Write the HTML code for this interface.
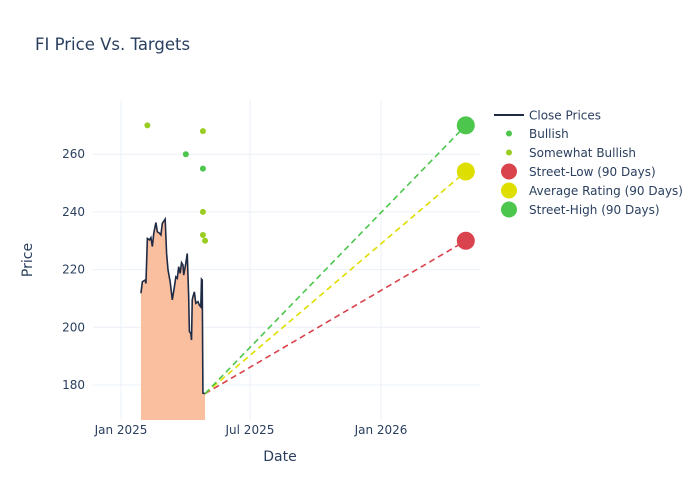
<!DOCTYPE html>
<html><head><meta charset="utf-8"><style>
body{margin:0;background:#fff;font-family:"DejaVu Sans",sans-serif}
svg text{font-family:"DejaVu Sans",sans-serif;fill:#2a3f5f}
</style></head><body>
<svg id="c" width="700" height="500" xmlns="http://www.w3.org/2000/svg">
<text x="35" y="50" font-size="16.5">FI Price Vs. Targets</text>
</svg>
<script>
// Day offsets from 2025-01-01
const priceDays=[28,30,34,35,37,40,42,44,46,49,51,54,56,58,62,64,66,69,72,75,77,79,81,83,85,87,88,91,93,95,96,98,99,100,101,103,105,108,110,112,113,114,115,118];
const priceVals=[211.8,215.8,216.4,215.2,230.8,230.3,231.1,228,232.6,236.3,233.1,232.6,232,236,237.5,225.6,219.9,215.8,209.5,214.1,217.5,217,221,218.7,222.4,221.6,218.1,222.2,225.6,210.6,198.5,197.9,195.6,209.5,210.6,212.3,208.3,208.9,207.7,207.1,216.7,216.4,177.2,177];
const bullDays=[91,115];
const bullVals=[260,255];
const sbDays=[37,115,115,115,118];
const sbVals=[270,268,240,232,230];
const targetDay=484;
const targetNames=["Street-Low (90 Days)","Average Rating (90 Days)","Street-High (90 Days)"];
const targetVals=[230,254,270];
const targetColors=["#d9434d","#dede00","#4cc64c"];
const yTicks=[180,200,220,240,260];
const xTickDays=[0,181,365];
const xTickLabels=["Jan 2025","Jul 2025","Jan 2026"];

const NS="http://www.w3.org/2000/svg";
const svg=document.getElementById('c');
const X0=93,X1=480,Y0=100,Y1=420;
const xs=d=>121+d*0.7124;
const ys=v=>385-(v-180)*2.885;
function mk(t,a,p){const e=document.createElementNS(NS,t);for(const k in a)e.setAttribute(k,a[k]);(p||svg).appendChild(e);return e;}

for(let i=0;i<yTicks.length;i++){
  const g=mk('line',{x1:X0,x2:X1,y1:ys(yTicks[i]),y2:ys(yTicks[i]),stroke:'#ebf0f8','stroke-width':1});
  
  
  const t=mk('text',{x:X0-8,y:ys(yTicks[i])+4,'font-size':12,'text-anchor':'end'});
  t.textContent=yTicks[i];
  
  
}
for(let i=0;i<xTickDays.length;i++){
  const x=xs(xTickDays[i]);
  const g=mk('line',{x1:x,x2:x,y1:Y0,y2:Y1,stroke:'#ebf0f8','stroke-width':1});
  
  
  const t=mk('text',{x:x,y:Y1+14,'font-size':12,'text-anchor':'middle'});
  t.textContent=xTickLabels[i];
  
  
}
let d='M'+xs(priceDays[0])+','+Y1;
for(let i=0;i<priceDays.length;i++)d+=' L'+xs(priceDays[i])+','+ys(priceVals[i]);
d+=' L'+xs(priceDays[priceDays.length-1])+','+Y1+' Z';
const f=mk('path',{d:d,fill:'#f9b48e','fill-opacity':0.85});


let ld='';
for(let i=0;i<priceDays.length;i++)ld+=(i?' L':'M')+xs(priceDays[i])+','+ys(priceVals[i]);
const pl=mk('path',{d:ld,fill:'none',stroke:'#1f2a44','stroke-width':1.6});


const lx=xs(priceDays[priceDays.length-1]),ly=ys(priceVals[priceVals.length-1]);
for(let i=0;i<targetVals.length;i++){
  const l=mk('line',{x1:lx,y1:ly,x2:xs(targetDay),y2:ys(targetVals[i]),stroke:targetColors[i],'stroke-width':1.6,'stroke-dasharray':'6,4'});
  
  
}
for(let i=0;i<targetVals.length;i++){
  const c=mk('circle',{cx:xs(targetDay),cy:ys(targetVals[i]),r:9,fill:targetColors[i]});
  
  
}
for(let i=0;i<bullDays.length;i++){
  const c=mk('circle',{cx:xs(bullDays[i]),cy:ys(bullVals[i]),r:3,fill:'#4cc64c'});
  
  
}
for(let i=0;i<sbDays.length;i++){
  const c=mk('circle',{cx:xs(sbDays[i]),cy:ys(sbVals[i]),r:3,fill:'#9acd22'});
  
  
}
const xt=mk('text',{x:280,y:461,'font-size':14,'text-anchor':'middle'});xt.textContent='Date';


const yt=mk('text',{x:32,y:260,'font-size':14,'text-anchor':'middle',transform:'rotate(-90 32 260)'});yt.textContent='Price';


const leg=[['Close Prices','line','#1f2a44',0],['Bullish','dot','#4cc64c',3],['Somewhat Bullish','dot','#9acd22',3],['Street-Low (90 Days)','dot','#d9434d',8],['Average Rating (90 Days)','dot','#dede00',8],['Street-High (90 Days)','dot','#4cc64c',8]];
const legYs=[115,133.5,152.5,171.5,190.5,209.5];
for(let i=0;i<leg.length;i++){
  const y=legYs[i];
  if(leg[i][1]==='line'){const l=mk('line',{x1:494,x2:524,y1:y,y2:y,stroke:leg[i][2],'stroke-width':2});
    
    }
  else{const c=mk('circle',{cx:509,cy:y,r:leg[i][3],fill:leg[i][2]});
    
    }
  const t=mk('text',{x:529,y:y+4.5,'font-size':12});t.textContent=leg[i][0];
  
  
}
</script>
</body></html>
